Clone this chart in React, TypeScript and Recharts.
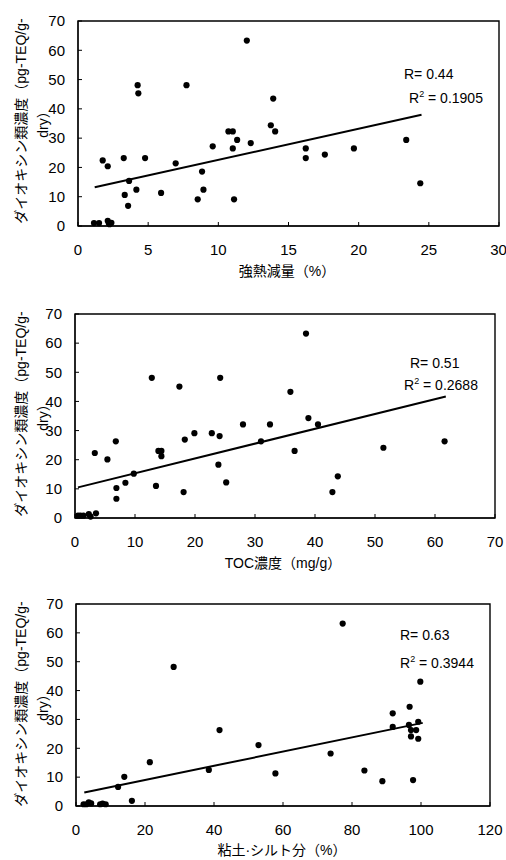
import {
  ReferenceArea,
  ReferenceLine,
  Scatter,
  ScatterChart,
  XAxis,
  YAxis
} from "recharts";

type Pt = [number, number];

// 強熱減量(%) vs ダイオキシン類濃度
const ignitionLoss: Pt[] = [
  [1.14, 1.0], [1.5, 1.0], [1.76, 22.4], [2.12, 20.4], [2.12, 1.8], [2.19, 1.0],
  [2.25, 0.6], [2.38, 1.1], [3.26, 23.2], [3.33, 10.6], [3.57, 6.9], [3.64, 15.4],
  [4.16, 12.4], [4.25, 48.1], [4.3, 45.3], [4.78, 23.2], [5.92, 11.3], [6.96, 21.4],
  [7.73, 48.1], [8.53, 9.1], [8.84, 18.6], [8.94, 12.4], [9.6, 27.2], [10.72, 32.3],
  [11.03, 32.3], [11.03, 26.5], [11.12, 9.1], [11.34, 29.4], [12.03, 63.3], [12.31, 28.3],
  [13.74, 34.4], [13.91, 43.5], [14.05, 32.3], [16.23, 26.5], [16.23, 23.2], [17.59, 24.4],
  [19.66, 26.5], [23.39, 29.4], [24.39, 14.6]
];
const ignitionTrend: Pt[] = [[1.19, 13.2], [24.48, 38.0]];

// TOC濃度(mg/g)
const tocConc: Pt[] = [
  [0.5, 0.8], [0.9, 0.8], [1.4, 0.8], [2.3, 1.3], [2.6, 0.5], [3.5, 1.6], [3.3, 22.3],
  [5.4, 20.1], [6.8, 26.3], [6.9, 10.3], [6.9, 6.6], [8.4, 12.1], [9.8, 15.2], [12.8, 48.1],
  [13.5, 11.0], [13.9, 23.0], [14.4, 23.0], [14.4, 21.2], [17.4, 45.1], [18.1, 8.9],
  [18.3, 26.9], [19.9, 29.1], [22.8, 29.1], [23.9, 18.3], [24.1, 28.1], [24.2, 48.1],
  [25.2, 12.2], [28.0, 32.1], [31.0, 26.3], [32.5, 32.1], [35.9, 43.3], [36.6, 23.0],
  [38.5, 63.3], [38.9, 34.3], [40.5, 32.1], [42.9, 8.9], [43.8, 14.3], [51.4, 24.1],
  [61.6, 26.3]
];
const tocTrend: Pt[] = [[0.5, 10.5], [61.8, 41.7]];

// 粘土・シルト分(%)
const clayRatio: Pt[] = [
  [2.2, 0.6], [3.0, 0.6], [3.7, 1.3], [4.4, 0.9], [7.0, 0.6], [7.7, 0.8], [8.6, 0.6],
  [12.2, 6.6], [14.0, 10.1], [16.2, 1.8], [21.4, 15.2], [28.3, 48.2], [38.5, 12.5],
  [41.6, 26.3], [52.9, 21.1], [57.8, 11.3], [73.8, 18.2], [77.3, 63.2], [83.6, 12.3],
  [88.8, 8.6], [91.8, 32.1], [91.8, 27.4], [96.7, 34.4], [96.5, 28.1], [97.1, 26.3],
  [97.1, 24.1], [97.7, 9.0], [98.6, 26.3], [99.2, 29.2], [99.2, 23.3], [99.8, 43.1]
];
const clayTrend: Pt[] = [[2.4, 4.7], [100.5, 28.8]];

const yTicks = [0, 10, 20, 30, 40, 50, 60, 70];
const ignitionTicks = [0, 5, 10, 15, 20, 25, 30];
const tocTicks = [0, 10, 20, 30, 40, 50, 60, 70];
const clayTicks = [0, 20, 40, 60, 80, 100, 120];

const FONT = "'Liberation Sans', Arial, 'Noto Sans CJK JP', sans-serif";
const W = 506;

interface PanelProps {
  top: number;
  height: number;
  points: Pt[];
  trend: Pt[];
  xTicks: number[];
  xLabel: string;
  r: string;
  r2: string;
  margin: { top: number; right: number; bottom: number; left: number };
  rPos: [number, number];
  r2Pos: [number, number];
  xLabelPos: [number, number];
}

const Dot = (p: any) => <circle cx={p.cx} cy={p.cy} r={3.1} fill="#000" />;

function Panel(props: PanelProps) {
  const { top, height, points, trend, xTicks, xLabel, margin } = props;
  const data = points.map(([x, y]) => ({ x, y }));
  const xMax = xTicks[xTicks.length - 1];
  return (
    <div style={{ position: "absolute", left: 0, top, width: W, height }}>
      <ScatterChart width={W} height={height} margin={margin} style={{ fontFamily: FONT }}>
        <XAxis
          type="number"
          dataKey="x"
          domain={[0, xMax]}
          ticks={xTicks}
          height={30}
          tickSize={-4}
          tickMargin={22}
          stroke="#000"
          tick={{ fill: "#000", fontSize: 15 }}
        />
        <YAxis
          type="number"
          dataKey="y"
          domain={[0, 70]}
          ticks={yTicks}
          width={60}
          tickSize={-4}
          tickMargin={17}
          stroke="#000"
          tick={{ fill: "#000", fontSize: 15 }}
        />
        <ReferenceArea
          x1={0}
          x2={xMax}
          y1={0}
          y2={70}
          fill="none"
          fillOpacity={0}
          stroke="#000"
          strokeWidth={1.4}
        />
        <ReferenceLine
          segment={trend.map(([x, y]) => ({ x, y }))}
          stroke="#000"
          strokeWidth={2}
          ifOverflow="visible"
        />
        <Scatter data={data} shape={Dot} isAnimationActive={false} />
        <text
          x={props.rPos[0]}
          y={props.rPos[1]}
          fontSize={14}
          fontFamily={FONT}
          fill="#000"
        >
          {props.r}
        </text>
        <text
          x={props.r2Pos[0]}
          y={props.r2Pos[1]}
          fontSize={14}
          fontFamily={FONT}
          fill="#000"
        >
          R
          <tspan fontSize={9} dy={-6}>2</tspan>
          <tspan dy={6}>{props.r2}</tspan>
        </text>
        <text
          x={props.xLabelPos[0]}
          y={props.xLabelPos[1]}
          fontSize={14}
          textAnchor="middle"
          fontFamily={FONT}
          fill="#000"
        >
          {xLabel}
        </text>
        {/* 縦軸ラベルは2行に折り返し */}
        <g transform="rotate(-90, 0, 121)">
          <text
            x={0}
            y={121 + 21}
            fontSize={14}
            textAnchor="middle"
            dominantBaseline="central"
            fontFamily={FONT}
            fill="#000"
          >
            ダイオキシン類濃度（pg-TEQ/g-
          </text>
          <text
            x={0}
            y={121 + 43}
            fontSize={14}
            textAnchor="middle"
            dominantBaseline="central"
            fontFamily={FONT}
            fill="#000"
          >
            dry）
          </text>
        </g>
      </ScatterChart>
    </div>
  );
}

export default function App() {
  return (
    <div
      style={{
        position: "absolute",
        left: 0,
        top: 0,
        width: W,
        height: 860,
        overflow: "hidden",
        background: "#fff",
        fontFamily: FONT
      }}
    >
      <Panel
        top={0}
        height={285}
        points={ignitionLoss}
        trend={ignitionTrend}
        xTicks={ignitionTicks}
        xLabel="強熱減量（%）"
        r="R= 0.44"
        r2=" = 0.1905"
        margin={{ top: 21, right: 7, bottom: 29, left: 18 }}
        rPos={[404, 79]}
        r2Pos={[409, 103]}
        xLabelPos={[287, 276]}
      />
      <Panel
        top={293}
        height={285}
        points={tocConc}
        trend={tocTrend}
        xTicks={tocTicks}
        xLabel="TOC濃度（mg/g）"
        r="R= 0.51"
        r2=" = 0.2688"
        margin={{ top: 21, right: 11, bottom: 30, left: 15 }}
        rPos={[410, 75]}
        r2Pos={[404, 97]}
        xLabelPos={[283, 275]}
      />
      <Panel
        top={583}
        height={277}
        points={clayRatio}
        trend={clayTrend}
        xTicks={clayTicks}
        xLabel="粘土·シルト分（%）"
        r="R= 0.63"
        r2=" = 0.3944"
        margin={{ top: 21, right: 16, bottom: 24, left: 16 }}
        rPos={[400, 57]}
        r2Pos={[400, 85]}
        xLabelPos={[282, 272]}
      />
    </div>
  );
}
